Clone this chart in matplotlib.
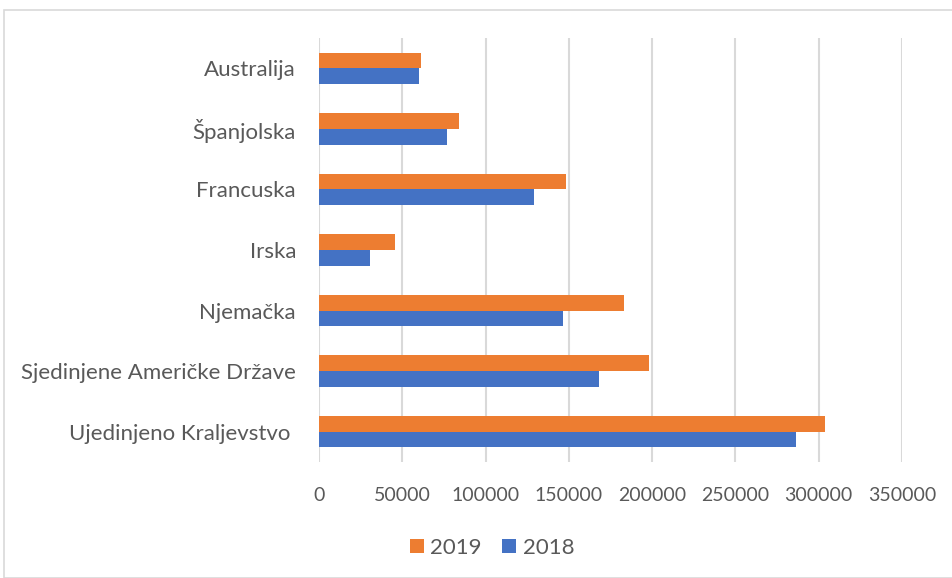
import numpy as np
import matplotlib.pyplot as plt
from matplotlib.patches import Rectangle

countries = ["Ujedinjeno Kraljevstvo ", "Sjedinjene Američke Države", "Njemačka",
             "Irska", "Francuska", "Španjolska", "Australija"]
v2018 = [286600, 168300, 146500, 30600, 129000, 76800, 60300]
v2019 = [304000, 197900, 182900, 45900, 148500, 84300, 61200]
xticks = [0, 50000, 100000, 150000, 200000, 250000, 300000, 350000]

plt.rcParams['font.family'] = ['Lato', 'DejaVu Sans']
grey = '#595959'

fig = plt.figure(figsize=(9.53, 5.78), dpi=100)
ax = fig.add_axes([319/953, 1 - 462/578, (902-319)/953, (462-38)/578])

# outer chart border
fig.patches.append(Rectangle((4/953, 0), 1.0, 1 - 10/578, transform=fig.transFigure,
                             fill=False, edgecolor='#d9d9d9', linewidth=1.2))

y = np.arange(len(countries))
h = 0.26
ax.barh(y - h/2, v2018, height=h, color='#4472c4', label='2018', zorder=3)
ax.barh(y + h/2, v2019, height=h, color='#ed7d31', label='2019', zorder=3)

ax.set_xlim(0, 350000)
ax.set_ylim(-0.5, len(countries) - 0.5)
ax.set_xticks(xticks)
ax.set_xticklabels([str(t) for t in xticks])
ax.set_yticks(y)
ax.set_yticklabels(countries)
ax.tick_params(axis='both', length=0, colors=grey)
ax.tick_params(axis='y', pad=16.5, labelsize=16)
ax.tick_params(axis='x', pad=18, labelsize=14)
ax.grid(axis='x', color='#d9d9d9', linewidth=1.5, zorder=0)
for s in ax.spines.values():
    s.set_visible(False)

handles, labels = ax.get_legend_handles_labels()
fig.legend(handles[::-1], labels[::-1], loc='center', bbox_to_anchor=(492/953, 1 - 548/578),
           ncol=2, frameon=False, fontsize=16, labelcolor=grey,
           handlelength=0.63, handleheight=0.63, handletextpad=0.3, columnspacing=0.9)

fig.savefig('out.png', dpi=100)
